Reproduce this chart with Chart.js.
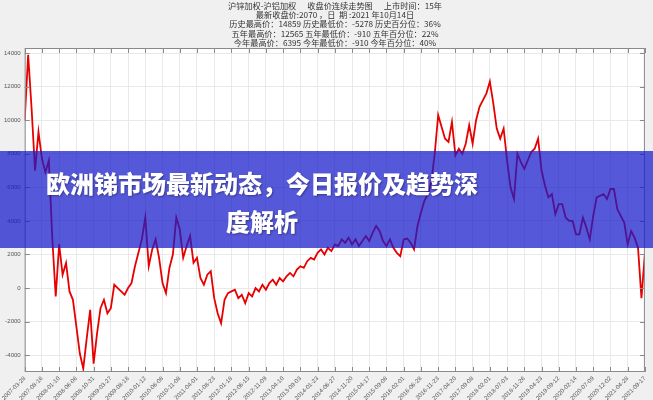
<!DOCTYPE html>
<html>
<head>
<meta charset="utf-8">
<script src="https://cdn.jsdelivr.net/npm/chart.js@4.4.0/dist/chart.umd.min.js"></script>
<style>
    body { margin: 0; background: #f0f0f0; }
    #wrap { position: relative; width: 653px; height: 400px; overflow: hidden; }
    #chart { position: absolute; left: 0; top: 0; }
    .title {
        position: absolute; left: 23px; width: 624px; top: 1px;
        text-align: center; font-family: "Noto Sans CJK SC", sans-serif;
        font-size: 8.2px; line-height: 9.2px; color: #333; white-space: pre;
    }
    .banner {
        position: absolute; left: 0; top: 151px; width: 653px; height: 97px;
        background: rgba(22, 26, 201, 0.73);
    }
    .banner div {
        width: 524px; padding-top: 13px; text-align: center;
        font-family: "Noto Sans CJK SC", sans-serif; font-weight: 900;
        font-size: 24px; line-height: 38px; color: #fff;
        text-shadow: 1px 1px 2px rgba(0, 0, 0, 0.35);
    }
</style>
</head>
<body>
<div id="wrap">
    <canvas id="chart" width="653" height="400"></canvas>
    <div class="title">沪锌加权-沪铝加权      收盘价连续走势图      上市时间：15年
最新收盘价:2070 ，日  期 :2021 年10月14日
历史最高价：14859 历史最低价：-5278 历史百分位：36%
五年最高价：12565 五年最低价：-910 五年百分位：22%
今年最高价：6395 今年最低价：-910 今年百分位：40%</div>
    <div class="banner"><div>欧洲锑市场最新动态，今日报价及趋势深<br>度解析</div></div>
</div>
<script>
// Tick dates along the x axis (one every 20 samples)
const dateLabels = [
    '2007-03-28', '2007-08-16', '2008-01-10', '2008-06-06', '2008-10-31',
    '2009-03-27', '2009-08-18', '2010-01-12', '2010-06-08', '2010-11-08',
    '2011-04-01', '2011-08-23', '2012-01-18', '2012-06-15', '2012-11-09',
    '2013-04-10', '2013-09-03', '2014-01-23', '2014-06-27', '2014-11-20',
    '2015-04-17', '2015-09-08', '2016-02-01', '2016-06-28', '2016-11-23',
    '2017-04-20', '2017-09-08', '2018-02-01', '2018-07-03', '2018-11-26',
    '2019-04-23', '2019-09-12', '2020-02-14', '2020-07-09', '2020-12-02',
    '2021-04-28', '2021-09-17'
];

const yTicks = [-4000, -2000, 0, 2000, 4000, 6000, 8000, 10000, 12000, 14000];

// Spread closes, sampled every 2 steps of the index axis
const closes = [
    10000, 13900, 10700, 7000, 9300, 7700, 6900, 7600, 3000, -500,
    2600, 800, 1500, -200, -700, -2300, -3900, -4800, -3000, -1300,
    -4500, -2700, -1200, -700, -1500, -1200, 200, 0, -200, -400,
    0, 300, 1300, 2100, 2900, 4200, 1300, 2300, 2900, 1800,
    300, -300, 1200, 2000, 4200, 3500, 1800, 2500, 3100, 1500,
    1800, 600, 200, 800, 1000, -600, -1500, -2100, -700, -300,
    -200, -100, -600, -400, -900, -300, -500, 0, -200, 200,
    -100, 300, 500, 200, 600, 400, 700, 900, 700, 1100,
    1300, 1200, 1600, 1800, 1700, 2100, 2300, 2000, 2400, 2200,
    2600, 2500, 2900, 2700, 3000, 2600, 2900, 2500, 2800, 3100,
    2800, 3300, 3700, 3400, 2800, 2500, 2900, 2400, 2100, 1900,
    2900, 2950, 2700, 2300, 3700, 4500, 5200, 5600, 6300, 8000,
    10300, 9600, 8900, 8700, 9900, 7900, 8300, 8000, 8600, 9700,
    8600, 10000, 10800, 11200, 11600, 12300, 11000, 9500, 8900, 9500,
    7600, 6000, 5300, 8000, 7500, 7100, 7600, 8100, 8300, 8900,
    7000, 6100, 5400, 5600, 4400, 5000, 5000, 4200, 4000, 4000,
    3200, 3200, 4200, 3600, 2900, 4300, 5400, 5500, 5600, 5300,
    5900, 5900, 4700, 4300, 3900, 2600, 3400, 3000, 2400, -600,
    2070
];

const sampleStep = 2;
const labelEvery = 10;

// Box round the plot with short inward ticks on every side
const boxPlugin = {
    id: 'box',
    afterDatasetsDraw(chart) {
        const { ctx, chartArea: a, scales } = chart;
        ctx.save();
        ctx.strokeStyle = '#8a8a8a';
        ctx.lineWidth = 1;
        ctx.strokeRect(a.left + 0.5, a.top + 0.5, a.right - a.left - 1, a.bottom - a.top - 1);
        ctx.beginPath();
        scales.x.ticks.forEach(t => {
            const px = Math.round(scales.x.getPixelForValue(t.value)) + 0.5;
            ctx.moveTo(px, a.bottom); ctx.lineTo(px, a.bottom - 5);
            ctx.moveTo(px, a.top); ctx.lineTo(px, a.top + 5);
        });
        scales.y.ticks.forEach(t => {
            const py = Math.round(scales.y.getPixelForValue(t.value)) + 0.5;
            ctx.moveTo(a.left, py); ctx.lineTo(a.left + 5, py);
            ctx.moveTo(a.right, py); ctx.lineTo(a.right - 5, py);
        });
        ctx.stroke();
        ctx.restore();
    }
};

// White plot background
const plotBg = {
    id: 'plotBg',
    beforeDraw(chart) {
        const { ctx, chartArea: a } = chart;
        ctx.save();
        ctx.fillStyle = '#ffffff';
        ctx.fillRect(a.left, a.top, a.right - a.left, a.bottom - a.top);
        ctx.restore();
    }
};

const points = closes.map((v, i) => ({ x: i * sampleStep, y: v }));
const xMax = (dateLabels.length - 1) * labelEvery;

new Chart(document.getElementById('chart'), {
    type: 'line',
    data: {
        datasets: [{
            data: points,
            borderColor: 'rgb(232, 0, 0)',
            borderWidth: 1.8,
            pointRadius: 0,
            tension: 0,
            fill: false
        }]
    },
    options: {
        responsive: false,
        animation: false,
        devicePixelRatio: 1,
        layout: { padding: { top: 48, right: 6, left: 0, bottom: 0 } },
        plugins: {
            legend: { display: false },
            tooltip: { enabled: false }
        },
        scales: {
            x: {
                type: 'linear',
                min: 0,
                max: xMax,
                afterBuildTicks: scale => {
                    scale.ticks = dateLabels.map((d, i) => ({ value: i * labelEvery }));
                },
                afterFit: scale => { scale.height = 28; },
                grid: { color: '#e9e9e9', drawTicks: false },
                border: { display: false },
                ticks: {
                    autoSkip: false,
                    minRotation: 45,
                    maxRotation: 45,
                    padding: 3,
                    color: '#555',
                    font: { family: 'Liberation Sans', size: 6 },
                    callback: value => dateLabels[Math.round(value / labelEvery)]
                }
            },
            y: {
                min: -5000,
                max: 14300,
                afterBuildTicks: scale => {
                    scale.ticks = yTicks.map(v => ({ value: v }));
                },
                afterFit: scale => { scale.width = 23; },
                grid: { color: '#e9e9e9', drawTicks: false },
                border: { display: false },
                ticks: {
                    padding: 4,
                    color: '#555',
                    font: { family: 'Liberation Sans', size: 6 },
                    callback: value => String(value)
                }
            }
        }
    },
    plugins: [plotBg, boxPlugin]
});
</script>
</body>
</html>
